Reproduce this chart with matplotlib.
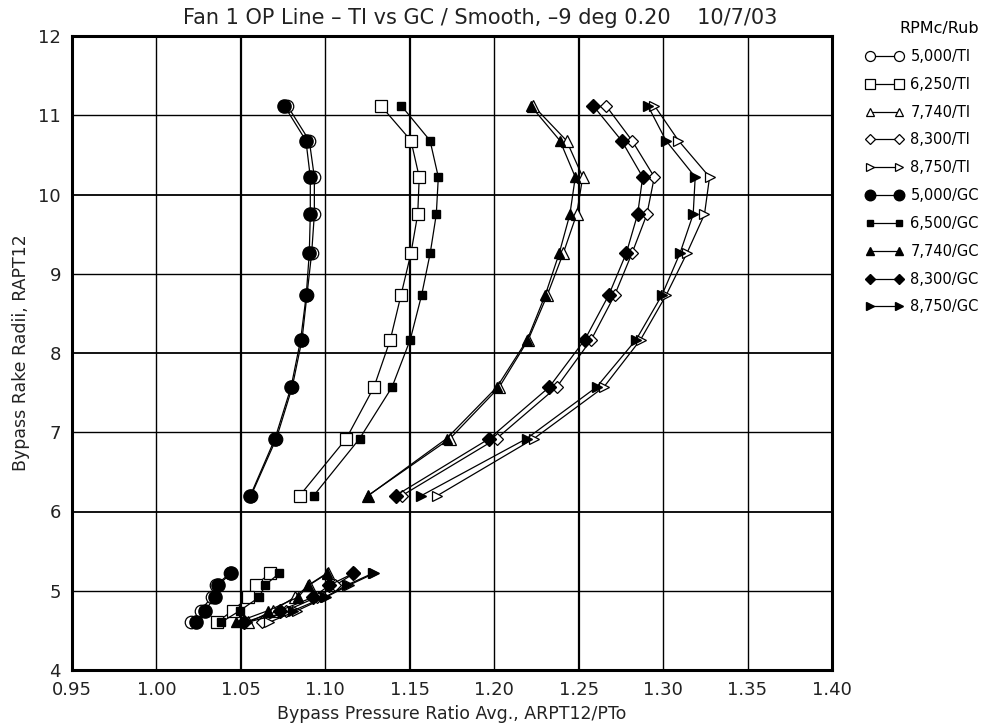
import matplotlib
matplotlib.use("Agg")
import matplotlib.pyplot as plt

# radial stations (upper rake and lower rake)
y_up = [11.12, 10.68, 10.22, 9.75, 9.26, 8.73, 8.17, 7.57, 6.92, 6.20]
y_lo = [5.22, 5.07, 4.92, 4.75, 4.60]

# TI series, upper rake
ti5000_up = [1.0775, 1.0905, 1.0935, 1.0935, 1.0919, 1.0891, 1.0862, 1.0804, 1.0710, 1.0560]
ti6250_up = [1.1329, 1.1507, 1.1556, 1.1547, 1.1507, 1.1448, 1.1385, 1.1288, 1.1124, 1.0848]
ti7740_up = [1.2231, 1.2428, 1.2524, 1.2488, 1.2409, 1.2314, 1.2202, 1.2030, 1.1738, 1.1252]
ti8300_up = [1.2662, 1.2816, 1.2948, 1.2904, 1.2816, 1.2713, 1.2575, 1.2370, 1.2014, 1.1453]
ti8750_up = [1.2949, 1.3091, 1.3275, 1.3245, 1.3141, 1.3018, 1.2867, 1.2649, 1.2235, 1.1663]

# GC series, upper rake
gc5000_up = [1.0757, 1.0885, 1.0911, 1.0911, 1.0905, 1.0887, 1.0854, 1.0797, 1.0702, 1.0556]
gc6500_up = [1.1450, 1.1620, 1.1669, 1.1657, 1.1621, 1.1570, 1.1503, 1.1395, 1.1203, 1.0931]
gc7740_up = [1.2216, 1.2389, 1.2480, 1.2448, 1.2385, 1.2302, 1.2196, 1.2016, 1.1718, 1.1254]
gc8300_up = [1.2586, 1.2754, 1.2879, 1.2849, 1.2782, 1.2678, 1.2537, 1.2326, 1.1971, 1.1416]
gc8750_up = [1.2910, 1.3017, 1.3190, 1.3178, 1.3100, 1.2993, 1.2841, 1.2606, 1.2192, 1.1568]

# lower rake
ti5000_lo = [1.0435, 1.0353, 1.0327, 1.0262, 1.0203]
ti6250_lo = [1.0672, 1.0587, 1.0544, 1.0451, 1.0357]
ti7740_lo = [1.1014, 1.0903, 1.0820, 1.0690, 1.0545]
ti8300_lo = [1.1170, 1.1060, 1.0950, 1.0770, 1.0625]
ti8750_lo = [1.1290, 1.1140, 1.1005, 1.0835, 1.0665]

gc5000_lo = [1.0441, 1.0366, 1.0347, 1.0287, 1.0234]
gc6500_lo = [1.0727, 1.0643, 1.0609, 1.0495, 1.0382]
gc7740_lo = [1.1008, 1.0899, 1.0840, 1.0662, 1.0471]
gc8300_lo = [1.1166, 1.1024, 1.0929, 1.0732, 1.0518]
gc8750_lo = [1.1280, 1.1126, 1.0998, 1.0810, 1.0534]

labels_ti = ["5,000/TI", "6,250/TI", "7,740/TI", "8,300/TI", "8,750/TI"]
labels_gc = ["5,000/GC", "6,500/GC", "7,740/GC", "8,300/GC", "8,750/GC"]

markers = ["o", "s", "^", "D", ">"]
ti_sizes = [9, 9, 8, 6.5, 7]
gc_sizes = [9.5, 6, 7.5, 7, 7]

ti_up = [ti5000_up, ti6250_up, ti7740_up, ti8300_up, ti8750_up]
ti_lo = [ti5000_lo, ti6250_lo, ti7740_lo, ti8300_lo, ti8750_lo]
gc_up = [gc5000_up, gc6500_up, gc7740_up, gc8300_up, gc8750_up]
gc_lo = [gc5000_lo, gc6500_lo, gc7740_lo, gc8300_lo, gc8750_lo]

fig = plt.figure(figsize=(9.94, 7.26), dpi=100)
ax = fig.add_axes([72 / 994, 56 / 726, 760 / 994, 634 / 726])

ax.set_xlim(0.95, 1.40)
ax.set_ylim(4, 12)

# grid, heavier every other line
xt = [0.95, 1.00, 1.05, 1.10, 1.15, 1.20, 1.25, 1.30, 1.35, 1.40]
for v in xt[1:-1]:
    ax.axvline(v, color="black", lw=1.6 if v in (1.05, 1.15, 1.25) else 1.0, zorder=1)
for v in range(5, 12):
    ax.axhline(v, color="black", lw=1.3 if v % 2 == 0 else 1.0, zorder=1)

handles = []
for k in range(5):
    # TI: open markers
    h, = ax.plot(ti_up[k], y_up, color="black", lw=0.9, marker=markers[k],
                 ms=ti_sizes[k], mfc="white", mec="black", mew=0.9,
                 label=labels_ti[k], zorder=3)
    ax.plot(ti_lo[k], y_lo, color="black", lw=0.9, marker=markers[k],
            ms=ti_sizes[k], mfc="white", mec="black", mew=0.9, zorder=3)
    handles.append(h)
for k in range(5):
    # GC: filled markers
    h, = ax.plot(gc_up[k], y_up, color="black", lw=0.9, marker=markers[k],
                 ms=gc_sizes[k], mfc="black", mec="black",
                 label=labels_gc[k], zorder=4)
    ax.plot(gc_lo[k], y_lo, color="black", lw=0.9, marker=markers[k],
            ms=gc_sizes[k], mfc="black", mec="black", zorder=4)
    handles.append(h)

ax.set_xticks(xt)
ax.set_xticklabels(["%.2f" % v for v in xt])
ax.set_yticks(range(4, 13))
ax.tick_params(length=0, labelsize=13, pad=8, labelcolor="#222222")
for s in ax.spines.values():
    s.set_linewidth(2.2)

ax.set_xlabel("Bypass Pressure Ratio Avg., ARPT12/PTo", fontsize=12.5,
              labelpad=4, color="#222222")
ax.set_ylabel("Bypass Rake Radii, RAPT12", fontsize=12.5, labelpad=6,
              color="#222222")

fig.text(480 / 994, 1 - 18 / 726,
         "Fan 1 OP Line \u2013 TI vs GC / Smooth, \u20139 deg 0.20    10/7/03",
         ha="center", va="center", fontsize=15, color="#222222")

leg = fig.legend(handles=handles, title="RPMc/Rub", loc="upper left",
                 bbox_to_anchor=(852 / 994, 1 - 8 / 726), frameon=False,
                 numpoints=2, handlelength=2.6, labelspacing=0.88,
                 fontsize=10.5, title_fontsize=11.5, markerscale=0.8,
                 alignment="right", handletextpad=0.5)

fig.savefig("out.png", dpi=100)
